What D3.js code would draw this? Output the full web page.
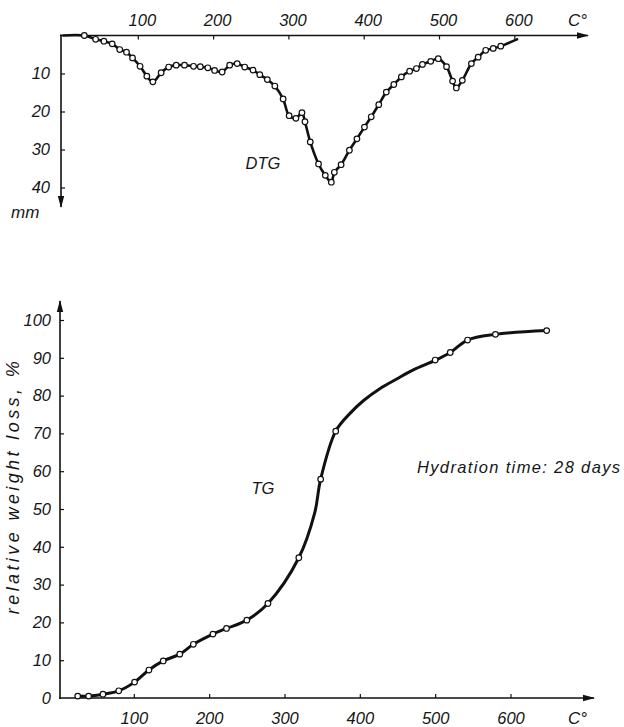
<!DOCTYPE html>
<html>
<head>
<meta charset="utf-8">
<script src="https://cdn.jsdelivr.net/npm/d3@7"></script>
<style>
body{margin:0;background:#fff}
text{font-family:"Liberation Sans",Arial,sans-serif;font-style:italic;fill:#161616}
</style>
</head>
<body>
<svg id="chart" width="624" height="727"></svg>
<script>
// DTG curve (top), temperature in C, deflection in mm
var dtgTemp = [0,29,44,55,66,76,85,93,103,112,120,131,141,151,162,174,183,193,202,212,
  222,232,242,253,262,272,282,293,301,310,318,322,329,340,349,357,361,370,381,391,
  401,410,420,430,440,450,461,470,478,489,499,510,518,523,531,543,552,562,572,582,605];
var dtgMm = [0,0,1.0,1.5,2.2,3.7,4.4,5.9,8.1,10.7,12.2,9.8,8.3,7.8,7.8,8.1,8.2,8.5,9.2,9.6,
  7.8,7.4,8.3,9.1,10.3,11.6,13.3,16.7,21.1,21.8,20.3,22.7,28,33.8,36.8,38.6,36,34,30.2,27.2,
  24.1,21.4,18.2,14.9,12.9,10.9,9.4,8.7,7.6,6.8,6.1,8.2,12,13.8,11.8,7.4,5.7,3.9,3.4,2.8,0.9];

// TG measured points (bottom), relative weight loss in %
var tgTemp = [25.5,40,59,80,101,120,139,161,179,205,223,250,278,319,348,368,500,520,543,580,648];
var tgLoss = [0.5,0.5,1,1.9,4.2,7.4,9.8,11.6,14.2,16.9,18.4,20.6,25,37.1,57.9,70.6,89.4,91.4,94.7,96.2,97.2];
// TG drawn curve, traced through the points plus where it runs without markers
var tgCurveTemp = [25.5,40,59,80,101,120,139,161,179,205,223,250,278,319,340,348,368,387,405,427,449,471,500,520,543,580,648];
var tgCurveLoss = [0.5,0.5,1,1.9,4.2,7.4,9.8,11.6,14.2,16.9,18.4,20.6,25,37.1,48.9,57.9,70.6,75.3,78.7,81.9,84.4,86.8,89.3,91.4,94.7,96.2,97.2];

var tempTicks = [100,200,300,400,500,600];
var dtgTicks = [10,20,30,40];
var tgTicks = [0,10,20,30,40,50,60,70,80,90,100];

var svg = d3.select("#chart");

svg.append("defs").append("marker")
  .attr("id","arrow")
  .attr("viewBox","0 -5 12 10")
  .attr("refX",11).attr("refY",0)
  .attr("markerWidth",12).attr("markerHeight",10)
  .attr("markerUnits","userSpaceOnUse")
  .attr("orient","auto")
  .append("path").attr("d","M0,-3.2L12,0L0,3.2Z").attr("fill","#111");

// ---- top chart (DTG)
var x1 = d3.scaleLinear().domain([0,600]).range([62.5, 514.3]);
var y1 = d3.scaleLinear().domain([0,40]).range([35.5, 187.5]);

var gTop = svg.append("g");

gTop.append("line")
  .attr("x1",60).attr("y1",35.5).attr("x2",588).attr("y2",35.5)
  .attr("stroke","#111").attr("stroke-width",1.6)
  .attr("marker-end","url(#arrow)");
gTop.append("line")
  .attr("x1",61).attr("y1",34.5).attr("x2",61).attr("y2",207)
  .attr("stroke","#111").attr("stroke-width",1.6)
  .attr("marker-end","url(#arrow)");

var xa1 = gTop.append("g").attr("transform","translate(0,35.5)")
  .call(d3.axisTop(x1).tickValues(tempTicks).tickSize(-4).tickPadding(10));
var ya1 = gTop.append("g").attr("transform","translate(61,0)")
  .call(d3.axisLeft(y1).tickValues(dtgTicks).tickSize(-4).tickPadding(11));

[xa1, ya1].forEach(function(a){
  a.select(".domain").remove();
  a.selectAll(".tick line").attr("stroke","#111").attr("stroke-width",1.2);
  a.selectAll(".tick text").attr("font-size",16.5).attr("font-family",null).attr("fill",null);
});
xa1.selectAll(".tick text").attr("dx",4);

gTop.append("text").attr("x",568).attr("y",26).attr("font-size",17).text("C°");
gTop.append("text").attr("x",11).attr("y",218).attr("font-size",17).text("mm");
gTop.append("text").attr("x",263).attr("y",169).attr("font-size",16.5)
  .attr("text-anchor","middle").text("DTG");

var dtgData = dtgTemp.map(function(t,i){ return [t, dtgMm[i]]; });
var line1 = d3.line().x(d => x1(d[0])).y(d => y1(d[1])).curve(d3.curveCatmullRom.alpha(0.5));

gTop.append("path").datum(dtgData)
  .attr("d",line1).attr("fill","none")
  .attr("stroke","#111").attr("stroke-width",2.6).attr("stroke-linejoin","round");

gTop.selectAll("circle").data(dtgData.slice(1,-1)).enter().append("circle")
  .attr("cx",d => x1(d[0])).attr("cy",d => y1(d[1])).attr("r",2.8)
  .attr("fill","#fff").attr("stroke","#111").attr("stroke-width",1.2);

// ---- bottom chart (TG)
var x2 = d3.scaleLinear().domain([0,600]).range([58.5, 510.5]);
var y2 = d3.scaleLinear().domain([0,100]).range([698, 320]);

var gBot = svg.append("g");

gBot.append("line")
  .attr("x1",59).attr("y1",698).attr("x2",594).attr("y2",698)
  .attr("stroke","#111").attr("stroke-width",1.6)
  .attr("marker-end","url(#arrow)");
gBot.append("line")
  .attr("x1",60).attr("y1",699).attr("x2",60).attr("y2",301)
  .attr("stroke","#111").attr("stroke-width",1.6)
  .attr("marker-end","url(#arrow)");

var xa2 = gBot.append("g").attr("transform","translate(0,698)")
  .call(d3.axisBottom(x2).tickValues(tempTicks).tickSize(-4).tickPadding(14));
var ya2 = gBot.append("g").attr("transform","translate(60,0)")
  .call(d3.axisLeft(y2).tickValues(tgTicks).tickSize(-4).tickPadding(9));

[xa2, ya2].forEach(function(a){
  a.select(".domain").remove();
  a.selectAll(".tick line").attr("stroke","#111").attr("stroke-width",1.2);
  a.selectAll(".tick text").attr("font-size",16.5).attr("font-family",null).attr("fill",null);
});
ya2.selectAll(".tick").filter(d => d === 0).select("line").remove();

gBot.append("text").attr("x",568).attr("y",724).attr("font-size",17).text("C°");
gBot.append("text").attr("x",263).attr("y",494).attr("font-size",16.5)
  .attr("text-anchor","middle").text("TG");
gBot.append("text").attr("x",417).attr("y",473).attr("font-size",16.5)
  .attr("textLength",203).text("Hydration time: 28 days");
gBot.append("text")
  .attr("transform","translate(19,486) rotate(-90)")
  .attr("text-anchor","middle").attr("font-size",18)
  .attr("letter-spacing",3.4)
  .text("relative weight loss, %");

var tgCurve = tgCurveTemp.map(function(t,i){ return [t, tgCurveLoss[i]]; });
var tgData = tgTemp.map(function(t,i){ return [t, tgLoss[i]]; });
var line2 = d3.line().x(d => x2(d[0])).y(d => y2(d[1])).curve(d3.curveCatmullRom.alpha(0.5));

gBot.append("path").datum(tgCurve)
  .attr("d",line2).attr("fill","none")
  .attr("stroke","#111").attr("stroke-width",3).attr("stroke-linejoin","round");

gBot.selectAll("circle").data(tgData).enter().append("circle")
  .attr("cx",d => x2(d[0])).attr("cy",d => y2(d[1])).attr("r",2.8)
  .attr("fill","#fff").attr("stroke","#111").attr("stroke-width",1.2);
</script>
</body>
</html>
